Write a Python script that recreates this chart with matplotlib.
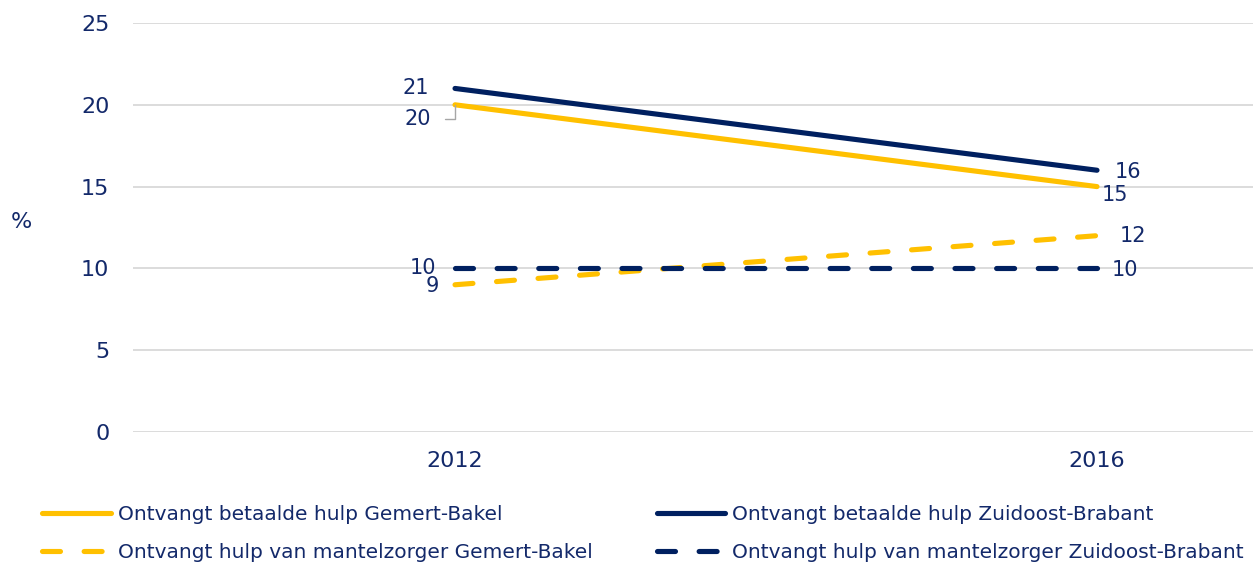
import matplotlib.pyplot as plt

years = ['2012', '2016']
betaald_gb = [20, 15]
betaald_zb = [21, 16]
mantel_gb = [9, 12]
mantel_zb = [10, 10]

geel = '#FFC000'
navy = '#002060'
tekst = '#13296A'

plt.rcParams['font.family'] = 'DejaVu Sans'
plt.rcParams['text.color'] = tekst

fig = plt.figure(figsize=(12.53, 5.62), dpi=100)
ax = fig.add_axes([133/1253, 130/562, 1120/1253, 409/562])

x = [0, 1]
l1, = ax.plot(x, betaald_gb, color=geel, lw=3.7, solid_capstyle='round')
l2, = ax.plot(x, betaald_zb, color=navy, lw=3.7, solid_capstyle='round')
l3, = ax.plot(x, mantel_gb, color=geel, lw=3.7, dashes=(3.5, 4.6), dash_capstyle='round')
l4, = ax.plot(x, mantel_zb, color=navy, lw=3.7, dashes=(3.5, 4.6), dash_capstyle='round')

ax.set_xlim(-0.5016, 1.243)
ax.set_ylim(0, 25)
ax.set_yticks(range(0, 26, 5))
ax.set_xticks(x)
ax.set_xticklabels(years)
ax.grid(axis='y', color='#D9D9D9', lw=1.3)
ax.set_axisbelow(True)
for s in ax.spines.values():
    s.set_visible(False)
ax.tick_params(length=0, labelsize=16, labelcolor=tekst)
ax.tick_params(axis='y', pad=17)
ax.tick_params(axis='x', pad=14)
ax.set_ylabel('%', rotation=0, fontsize=16, color=tekst, va='center')
ax.yaxis.set_label_coords(-0.1, 0.513)

fs = 15
# labels 2012
ax.annotate('21', (0, 21), xytext=(-28, 0), textcoords='offset points', ha='center', va='center', fontsize=fs)
ax.annotate('20', (0, 20), xytext=(-27, -10), textcoords='offset points', ha='center', va='center', fontsize=fs,
            arrowprops=dict(arrowstyle='-', color='#A6A6A6', lw=1, shrinkA=8, shrinkB=0,
                            connectionstyle='angle,angleA=0,angleB=90,rad=0'))
ax.annotate('10', (0, 10), xytext=(-23, 0), textcoords='offset points', ha='center', va='center', fontsize=fs)
ax.annotate('9', (0, 9), xytext=(-16, -1), textcoords='offset points', ha='center', va='center', fontsize=fs)
# labels 2016
ax.annotate('16', (1, 16), xytext=(22, -1), textcoords='offset points', ha='center', va='center', fontsize=fs)
ax.annotate('15', (1, 15), xytext=(13, -6), textcoords='offset points', ha='center', va='center', fontsize=fs)
ax.annotate('12', (1, 12), xytext=(26, 0), textcoords='offset points', ha='center', va='center', fontsize=fs)
ax.annotate('10', (1, 10), xytext=(20, -1), textcoords='offset points', ha='center', va='center', fontsize=fs)

fig.legend([l1, l3, l2, l4],
           ['Ontvangt betaalde hulp Gemert-Bakel', 'Ontvangt hulp van mantelzorger Gemert-Bakel',
            'Ontvangt betaalde hulp Zuidoost-Brabant', 'Ontvangt hulp van mantelzorger Zuidoost-Brabant'],
           ncol=2, loc='upper left', bbox_to_anchor=(24/1253, 1 - 487/562), frameon=False,
           fontsize=14.5, handlelength=3.4, handletextpad=0.35, columnspacing=3.2, labelspacing=0.95,
           labelcolor=tekst)

plt.savefig('out.png', dpi=100)
